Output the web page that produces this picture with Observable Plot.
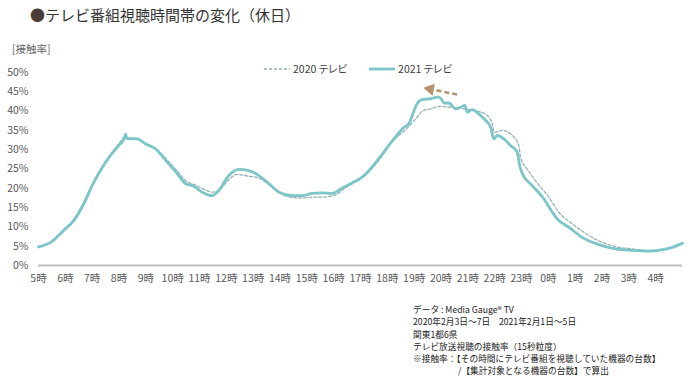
<!DOCTYPE html>
<html><head><meta charset="utf-8">
<script src="https://cdn.jsdelivr.net/npm/d3@7"></script>
<script src="https://cdn.jsdelivr.net/npm/@observablehq/plot@0.6"></script>
<style>
body{margin:0;background:#fff;font-family:"Noto Sans CJK JP","Noto Sans",sans-serif;}
#wrap{position:relative;width:700px;height:381px;overflow:hidden;}
#title{position:absolute;left:30px;top:5px;font-size:15px;line-height:20px;color:#333;white-space:nowrap;}
#title .dot{color:#4d3b36}
#unit{position:absolute;left:12px;top:42px;font-size:10.5px;line-height:14px;color:#666;font-feature-settings:"palt";}
#legend{position:absolute;top:62px;left:264px;font-size:10.5px;line-height:14px;color:#404040;display:flex;align-items:center;white-space:nowrap;font-feature-settings:"palt";}
#legend svg{display:block;margin-right:3px}
#chart{position:absolute;left:0;top:40px;}
#caption{position:absolute;left:413px;top:304px;font-size:8.7px;line-height:12.3px;color:#222;white-space:nowrap;}
</style>
</head><body>
<div id="wrap">
  <div id="title"><span class="dot">●</span>テレビ番組視聴時間帯の変化（休日）</div>
  <div id="unit">[接触率]</div>
  <div id="legend"></div>
  <div id="chart"></div>
  <div id="caption"></div>
</div>
<script>
// hour offsets from 5時 (0 = 5:00, 24 = 5:00 next day)
const hourLabels = ["5時","6時","7時","8時","9時","10時","11時","12時","13時","14時","15時","16時","17時","18時","19時","20時","21時","22時","23時","0時","1時","2時","3時","4時"];
const yTicks = [0,5,10,15,20,25,30,35,40,45,50];

const seriesNames = ["2020 テレビ","2021 テレビ"];

const hours2021 = [0,0.45,0.94,1.32,1.69,2.0,2.31,2.68,2.99,3.2,3.24,3.3,3.68,3.99,4.36,4.8,5.17,5.48,5.79,6.1,6.47,6.72,7.09,7.47,7.84,8.15,8.52,8.96,9.45,9.83,10.2,10.57,10.95,11.32,11.69,12.06,12.37,12.87,13.24,13.62,13.8,13.93,14.11,14.3,14.61,14.86,14.98,15.11,15.29,15.54,15.73,15.89,15.98,16.16,16.41,16.66,16.85,16.97,17.1,17.34,17.59,17.84,17.93,18.03,18.4,18.83,19.15,19.33,19.77,20.26,20.88,21.5,22.13,22.75,23.25,23.62,24];
const values2021 = [4.8,6.0,9.1,11.7,16.0,20.7,24.6,28.5,31.1,32.9,34.0,32.9,32.8,31.5,30.2,26.8,23.8,21.2,20.5,19.0,18.1,19.4,23.3,24.9,24.6,23.6,21.6,19.0,18.1,18.1,18.7,18.8,18.7,20.1,21.4,22.9,25.0,29.4,32.8,35.8,36.7,38.9,41.9,43.0,43.2,43.6,43.4,42.1,42.1,40.6,41.0,41.5,39.7,40.4,39.3,37.6,35.8,32.8,33.7,32.8,31.1,29.4,25.9,23.8,20.7,17.3,13.8,12.1,9.9,7.3,5.4,4.3,3.9,3.7,4.1,4.7,5.8];

const hours2020 = [0,0.45,0.94,1.32,1.69,2.0,2.31,2.68,2.99,3.24,3.3,3.68,3.99,4.36,4.8,5.17,5.48,5.85,6.16,6.47,6.72,7.09,7.4,7.84,8.15,8.52,8.96,9.45,9.83,10.2,10.57,10.95,11.15,11.32,11.69,12.06,12.37,12.87,13.12,13.74,14.11,14.3,14.61,14.98,15.35,15.85,16.35,16.72,16.91,16.97,17.28,17.59,17.9,17.96,18.21,18.52,19.02,19.39,19.89,20.51,21.0,21.5,22.13,22.75,23.25,23.62,24];
const values2020 = [4.8,6.1,9.3,12.0,16.5,21.0,25.0,28.8,31.5,33.5,33.0,32.9,31.7,30.4,27.3,24.5,22.0,20.8,19.8,19.0,19.5,22.2,23.6,23.1,22.8,21.3,19.0,17.6,17.5,17.7,17.7,18.1,18.6,19.5,21.2,22.7,24.7,29.0,31.5,35.6,38.4,40.0,40.6,41.2,41.0,40.6,40.0,38.9,36.7,34.5,35.0,34.1,31.1,28.1,25.0,22.0,17.7,13.8,10.8,7.8,6.0,4.9,4.3,3.9,4.1,4.7,5.8];

// annotation arrow (tail -> head), in hour offset / percent
const arrowTail = [15.6, 44.3];
const arrowHead = [14.6, 45.7];

const captionLines = [
  "データ : Media Gauge® TV",
  "2020年2月3日～7日　2021年2月1日～5日",
  "関東1都6県",
  "テレビ放送視聴の接触率（15秒粒度）",
  "※接触率：【その時間にテレビ番組を視聴していた機器の台数】",
  "/【集計対象となる機器の台数】で算出"
];

const c2021 = "#7cc6c9", c2020 = "#93b3b8", cArrow = "#b8916a";

const d2021 = hours2021.map((h,i)=>({h, v: values2021[i]}));
const d2020 = hours2020.map((h,i)=>({h, v: values2020[i]}));
const arrowData = [{x1: arrowTail[0], y1: arrowTail[1], x2: arrowHead[0], y2: arrowHead[1]}];
const hourTicks = hourLabels.map((_,i)=>i);

const chart = Plot.plot({
  width: 700, height: 260,
  marginTop: 32, marginBottom: 35, marginLeft: 38, marginRight: 18,
  style: {fontFamily: '"Noto Sans CJK JP","Noto Sans",sans-serif', fontSize: "10.5px", color: "#595959", background: "transparent", overflow: "visible"},
  x: {domain: [0, 24], axis: null},
  y: {domain: [0, 50], axis: null},
  marks: [
    Plot.axisY({ticks: yTicks, tickSize: 0, tickPadding: 10, tickFormat: d => d + "%", label: null}),
    Plot.axisX({ticks: hourTicks, tickSize: 0, tickPadding: 9, tickFormat: i => hourLabels[i], label: null}),
    Plot.ruleY([0], {stroke: "#bfbfbf", strokeWidth: 2}),
    Plot.line(d2020, {x: "h", y: "v", stroke: c2020, strokeWidth: 1.3, strokeDasharray: "3,2", curve: "monotone-x"}),
    Plot.line(d2021, {x: "h", y: "v", stroke: c2021, strokeWidth: 2.8, curve: "monotone-x"}),
    Plot.link(arrowData, {x1: "x1", y1: "y1", x2: "x2", y2: "y2", stroke: cArrow, strokeWidth: 2.6, strokeDasharray: "5,3"}),
    Plot.dot(arrowData, {x: "x2", y: "y2", symbol: "triangle", r: 4.5, fill: cArrow, stroke: "none", rotate: -79})
  ]
});
document.getElementById("chart").appendChild(chart);

// legend
const legend = document.getElementById("legend");
function item(name, dashed, color, width, gap){
  const wrap = document.createElement("div");
  wrap.style.display = "flex"; wrap.style.alignItems = "center"; wrap.style.marginRight = gap + "px";
  wrap.innerHTML = `<svg width="26" height="10"><line x1="0" y1="5" x2="26" y2="5" stroke="${color}" stroke-width="${width}" ${dashed ? 'stroke-dasharray="3,2"' : ''}/></svg><span>${name}</span>`;
  legend.appendChild(wrap);
}
item(seriesNames[0], true, c2020, 1.3, 22);
item(seriesNames[1], false, c2021, 2.8, 0);

// caption
const cap = document.getElementById("caption");
captionLines.forEach((t, i) => {
  const div = document.createElement("div");
  div.textContent = t;
  if (i === captionLines.length - 1) div.style.paddingLeft = "45px";
  cap.appendChild(div);
});
</script>
</body></html>
